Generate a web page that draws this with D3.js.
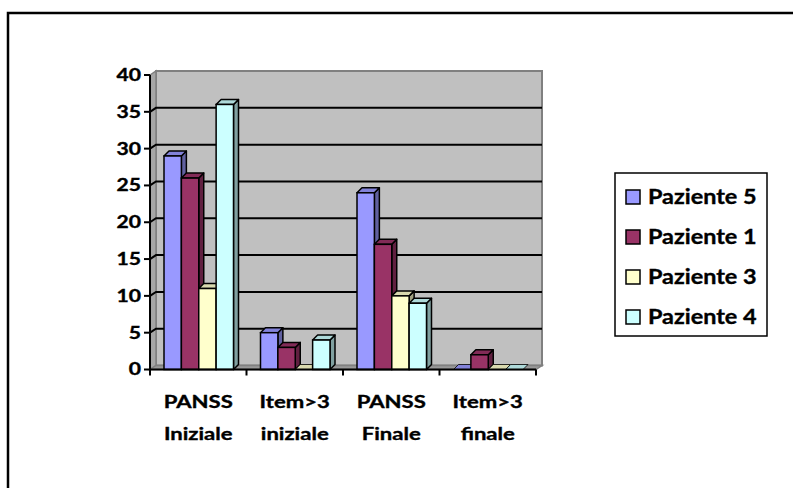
<!DOCTYPE html>
<html>
<head>
<meta charset="utf-8">
<script src="https://cdn.jsdelivr.net/npm/d3@7"></script>
<style>
  html, body { margin: 0; padding: 0; background: #fff; }
  svg { display: block; }
  text { font-family: Lato, "Open Sans", sans-serif; font-weight: bold; fill: #000; stroke: #000; stroke-width: 0.35; }
</style>
</head>
<body>
<script>
// Punteggi PANSS e numero di item > 3, inizio e fine trattamento
const categories = [["PANSS", "Iniziale"], ["Item>3", "iniziale"], ["PANSS", "Finale"], ["Item>3", "finale"]];
const series = ["Paziente 5", "Paziente 1", "Paziente 3", "Paziente 4"];
const paziente5 = [29, 5, 24, 0];
const paziente1 = [26, 3, 17, 2];
const paziente3 = [11, 0, 10, 0];
const paziente4 = [36, 4, 9, 0];
const yTicks = [0, 5, 10, 15, 20, 25, 30, 35, 40];
const colors = ["#9999FF", "#993366", "#FFFFCC", "#CCFFFF"];

const values = [paziente5, paziente1, paziente3, paziente4];
const W = 793, H = 488;

const svg = d3.select("body").append("svg").attr("width", W).attr("height", H);

// text widened horizontally, anchored at (x, y)
function label(parent, x, y, str, size, sx, anchor) {
  return parent.append("g").attr("transform", `translate(${x},${y}) scale(${sx},1)`)
    .append("text").attr("x", 0).attr("y", 0).attr("dy", "0.36em")
    .attr("text-anchor", anchor).attr("font-size", size).text(str);
}

// outer chart frame (only top and left edges fall inside the window)
svg.append("path")
  .attr("d", `M8,${H + 5} L8,13 L${W + 5},13`)
  .attr("fill", "none").attr("stroke", "#000").attr("stroke-width", 2.5);

const x0 = d3.scaleBand().domain(d3.range(categories.length)).range([150, 536]);
const x1 = d3.scaleBand().domain(series).range([14, x0.bandwidth() - 13]);
const y = d3.scaleLinear().domain([0, 40]).range([369.5, 75]);

// depth offsets: walls and bars
const wdx = 6, wdy = -4;
const bdx = 5, bdy = -5;

const g = svg.append("g");
const [yb, yt] = [y(0), y(40)];
const xl = x0.range()[0], xr = x0.range()[1];

// back wall
g.append("path")
  .attr("d", `M${xl + wdx},${yt + wdy} L${xr + wdx},${yt + wdy} L${xr + wdx},${yb + wdy} L${xl + wdx},${yb + wdy} Z`)
  .attr("fill", "#C0C0C0").attr("stroke", "#808080").attr("stroke-width", 2);

// left side wall
g.append("path")
  .attr("d", `M${xl},${yt} L${xl + wdx},${yt + wdy} L${xl + wdx},${yb + wdy} L${xl},${yb} Z`)
  .attr("fill", "#A6A6A6").attr("stroke", "#808080").attr("stroke-width", 1.5);

// floor
g.append("path")
  .attr("d", `M${xl},${yb} L${xr},${yb} L${xr + wdx},${yb + wdy} L${xl + wdx},${yb + wdy} Z`)
  .attr("fill", "#999999").attr("stroke", "#808080").attr("stroke-width", 1.5);

// gridlines across the left and back walls
yTicks.filter(v => v > 0 && v < 40).forEach(v => {
  g.append("path")
    .attr("d", `M${xl},${y(v)} L${xl + wdx},${y(v) + wdy} L${xr + wdx},${y(v) + wdy}`)
    .attr("fill", "none").attr("stroke", "#000").attr("stroke-width", 2);
});

// 3D columns
const shade = (c, k) => d3.rgb(c).darker(k).formatHex();
categories.forEach((cat, ci) => {
  series.forEach((s, si) => {
    const v = values[si][ci];
    const bx = x0(ci) + x1(s), bw = x1.bandwidth();
    const top = y(v), base = y(0);
    const bar = g.append("g");
    if (v > 0) {
      bar.append("path") // right side
        .attr("d", `M${bx + bw},${top} L${bx + bw + bdx},${top + bdy} L${bx + bw + bdx},${base + bdy} L${bx + bw},${base} Z`)
        .attr("fill", shade(colors[si], 1.3)).attr("stroke", "#000").attr("stroke-width", 1.5).attr("stroke-linejoin", "round");
    }
    bar.append("path") // top face
      .attr("d", `M${bx},${top} L${bx + bdx},${top + bdy} L${bx + bw + bdx},${top + bdy} L${bx + bw},${top} Z`)
      .attr("fill", shade(colors[si], 0.45)).attr("stroke", "#000").attr("stroke-width", v > 0 ? 1.5 : 0.8).attr("stroke-linejoin", "round");
    if (v > 0) {
      bar.append("rect") // front face
        .attr("x", bx).attr("y", top).attr("width", bw).attr("height", base - top)
        .attr("fill", colors[si]).attr("stroke", "#000").attr("stroke-width", 1.5);
    }
  });
});

// y axis
const yAxis = svg.append("g");
yAxis.append("line").attr("x1", xl).attr("x2", xl).attr("y1", yt).attr("y2", yb)
  .attr("stroke", "#000").attr("stroke-width", 2);
yTicks.forEach(v => {
  yAxis.append("line").attr("x1", xl - 6).attr("x2", xl).attr("y1", y(v)).attr("y2", y(v))
    .attr("stroke", "#000").attr("stroke-width", 2);
  label(yAxis, xl - 9, y(v), v, 16.5, 1.28, "end");
});

// x axis
const xAxis = svg.append("g");
xAxis.append("line").attr("x1", xl).attr("x2", xr).attr("y1", yb).attr("y2", yb)
  .attr("stroke", "#000").attr("stroke-width", 2);
d3.range(categories.length + 1).forEach(i => {
  const tx = i < categories.length ? x0(i) : xr;
  xAxis.append("line").attr("x1", tx).attr("x2", tx).attr("y1", yb).attr("y2", yb + 6)
    .attr("stroke", "#000").attr("stroke-width", 2);
});
categories.forEach((cat, ci) => {
  cat.forEach((line, li) => {
    label(xAxis, x0(ci) + x0.bandwidth() / 2, 401.5 + li * 32, line, 17, 1.3, "middle");
  });
});

// legend
const lg = svg.append("g");
lg.append("rect").attr("x", 615).attr("y", 173).attr("width", 152).attr("height", 163)
  .attr("fill", "#fff").attr("stroke", "#000").attr("stroke-width", 1.5);
series.forEach((s, si) => {
  const cy = 197 + si * 40;
  lg.append("rect").attr("x", 626).attr("y", cy - 7).attr("width", 14).attr("height", 14)
    .attr("fill", colors[si]).attr("stroke", "#000").attr("stroke-width", 1.5);
  label(lg, 648, cy, s, 20, 1.17, "start");
});
</script>
</body>
</html>
